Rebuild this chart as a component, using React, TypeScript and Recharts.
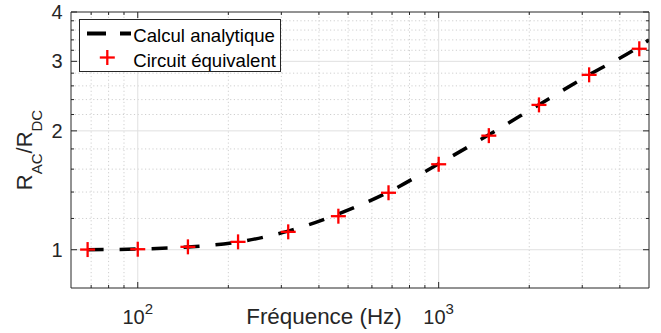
import React from 'react';
import { ComposedChart, Line, Scatter, XAxis, YAxis, ReferenceLine, Legend } from 'recharts';

// ---- data ----
const freqs = [68.13, 100, 146.78, 215.44, 316.23, 464.16, 681.29, 1000, 1467.8, 2154.4, 3162.3, 4641.6];
const circuitValues = [1.001, 1.003, 1.017, 1.047, 1.11, 1.216, 1.394, 1.646, 1.945, 2.327, 2.773, 3.228];
const analyticFreqs = [68.13, 100, 146.78, 215.44, 316.23, 464.16, 681.29, 1000, 1467.8, 2154.4, 3162.3, 4641.6, 5000];
const analyticValues = [1.0, 1.004, 1.016, 1.046, 1.115, 1.232, 1.4, 1.65, 1.955, 2.33, 2.775, 3.27, 3.4];

const xDomain = [60, 5000];
const yDomain = [0.8, 4];
const xMajorTicks = [100, 1000];
const xTickExponents = ['2', '3'];
const xMinorTicks = [70, 80, 90, 200, 300, 400, 500, 600, 700, 800, 900, 2000, 3000, 4000];
const yMajorTicks = [1, 2, 3, 4];
const yMinorTicks = [1.2, 1.4, 1.6, 1.8, 2.2, 2.4, 2.6, 2.8, 3.2, 3.4, 3.6, 3.8];
const seriesNames = ['Calcul analytique', 'Circuit équivalent'];
const xLabel = 'Fréquence (Hz)';

const circuitData = freqs.map((f, i) => ({ f, v: circuitValues[i] }));
const analyticData = analyticFreqs.map((f, i) => ({ f, v: analyticValues[i] }));

// ---- layout ----
const W = 661;
const H = 333;
const MARGIN = { top: 12, right: 12, bottom: 0, left: 0 };
const Y_AXIS_W = 71;
const X_AXIS_H = 45;
const PLOT_W = W - MARGIN.left - MARGIN.right - Y_AXIS_W;
const PLOT_H = H - MARGIN.top - MARGIN.bottom - X_AXIS_H;
const FONT = '"Liberation Sans", Arial, Helvetica, sans-serif';
const AX = '#262626';

const tickDash = (len: number, total: number) => `${len} ${total - 2 * len} ${len}`;

const YTick = (props: any) => {
  const { x, y, payload } = props;
  return (
    <text x={x - 8.5} y={y} dy="0.355em" textAnchor="end" fontSize={20} fill={AX} fontFamily={FONT}>
      {payload.value}
    </text>
  );
};

const XTick = (props: any) => {
  const { x, y, payload } = props;
  const idx = xMajorTicks.indexOf(payload.value);
  return (
    <text x={x} y={y + 35.5} textAnchor="middle" fontSize={20} fill={AX} fontFamily={FONT}>
      <tspan>10</tspan>
      <tspan dy={-9.3} fontSize={15}>{xTickExponents[idx]}</tspan>
    </text>
  );
};

const YLabel = () => {
  const cx = 31.5;
  const cy = MARGIN.top + PLOT_H / 2;
  return (
    <text
      x={cx}
      y={cy}
      transform={`rotate(-90 ${cx} ${cy})`}
      textAnchor="middle"
      fontSize={22}
      fill={AX}
      fontFamily={FONT}
    >
      <tspan>R</tspan>
      <tspan dy={10} fontSize={15}>AC</tspan>
      <tspan dy={-10}>/R</tspan>
      <tspan dy={10} fontSize={15}>DC</tspan>
    </text>
  );
};

const XLabel = () => (
  <text x={324} y={323.5} textAnchor="middle" fontSize={22.4} fill={AX} fontFamily={FONT}>
    {xLabel}
  </text>
);

const CrossShape = (props: any) => {
  const { cx, cy } = props;
  const s = 7.5;
  return (
    <g>
      <line x1={cx - s} x2={cx + s} y1={cy} y2={cy} stroke="#ff0000" strokeWidth={2.3} />
      <line x1={cx} x2={cx} y1={cy - s} y2={cy + s} stroke="#ff0000" strokeWidth={2.3} />
    </g>
  );
};

const LegendBox = () => (
  <svg width={202} height={53} style={{ display: 'block' }}>
    <rect x={0.5} y={0.5} width={201} height={52} fill="#ffffff" stroke={AX} strokeWidth={1} />
    <line x1={8} x2={52} y1={14.5} y2={14.5} stroke="#000" strokeWidth={4} strokeDasharray="19 14" />
    <line x1={20.8} x2={35.8} y1={38.5} y2={38.5} stroke="#ff0000" strokeWidth={2.3} />
    <line x1={28.3} x2={28.3} y1={31} y2={46} stroke="#ff0000" strokeWidth={2.3} />
    <text x={54.3} y={22.6} fontSize={18.6} fill="#000" fontFamily={FONT}>{seriesNames[0]}</text>
    <text x={54.3} y={47.6} fontSize={18.6} fill="#000" fontFamily={FONT}>{seriesNames[1]}</text>
  </svg>
);

export default function App() {
  return (
    <div style={{ position: 'absolute', left: 0, top: 0, width: W, height: H, background: '#fff' }}>
      <ComposedChart width={W} height={H} margin={MARGIN}>
        <XAxis
          dataKey="f"
          type="number"
          scale="log"
          domain={xDomain}
          allowDataOverflow
          ticks={xMajorTicks}
          tick={<XTick />}
          tickLine={false}
          tickSize={0}
          tickMargin={0}
          height={X_AXIS_H}
          axisLine={{ stroke: AX, strokeWidth: 1 }}
          label={<XLabel />}
        />
        <YAxis
          dataKey="v"
          type="number"
          scale="log"
          domain={yDomain}
          allowDataOverflow
          ticks={yMajorTicks}
          tick={<YTick />}
          tickLine={false}
          tickSize={0}
          tickMargin={0}
          width={Y_AXIS_W}
          axisLine={{ stroke: AX, strokeWidth: 1 }}
          label={<YLabel />}
        />

        {/* minor grid */}
        {xMinorTicks.map((v) => (
          <ReferenceLine key={`xg${v}`} x={v} stroke="#cfcfcf" strokeWidth={1} strokeDasharray="1.2 2.5" />
        ))}
        {yMinorTicks.map((v) => (
          <ReferenceLine key={`yg${v}`} y={v} stroke="#cfcfcf" strokeWidth={1} strokeDasharray="1.2 2.5" />
        ))}
        {/* major grid */}
        {xMajorTicks.map((v) => (
          <ReferenceLine key={`xG${v}`} x={v} stroke="#e0e0e0" strokeWidth={1} />
        ))}
        {yMajorTicks.slice(0, 3).map((v) => (
          <ReferenceLine key={`yG${v}`} y={v} stroke="#e0e0e0" strokeWidth={1} />
        ))}

        <Line
          data={analyticData}
          dataKey="v"
          type="monotone"
          stroke="#000"
          strokeWidth={3.5}
          strokeDasharray="16 16"
          dot={false}
          activeDot={false}
          isAnimationActive={false}
          name={seriesNames[0]}
        />
        <Scatter
          data={circuitData}
          dataKey="v"
          shape={<CrossShape />}
          isAnimationActive={false}
          name={seriesNames[1]}
        />

        {/* box border */}
        <ReferenceLine y={yDomain[1]} stroke={AX} strokeWidth={1} />
        <ReferenceLine x={xDomain[1]} stroke={AX} strokeWidth={1} />

        {/* inward tick marks (both sides) */}
        {xMajorTicks.map((v) => (
          <ReferenceLine key={`xt${v}`} x={v} stroke={AX} strokeWidth={1} strokeDasharray={tickDash(6, PLOT_H)} />
        ))}
        {xMinorTicks.map((v) => (
          <ReferenceLine key={`xm${v}`} x={v} stroke={AX} strokeWidth={1} strokeDasharray={tickDash(3, PLOT_H)} />
        ))}
        {yMajorTicks.map((v) => (
          <ReferenceLine key={`yt${v}`} y={v} stroke={AX} strokeWidth={1} strokeDasharray={tickDash(6, PLOT_W)} />
        ))}
        {yMinorTicks.map((v) => (
          <ReferenceLine key={`ym${v}`} y={v} stroke={AX} strokeWidth={1} strokeDasharray={tickDash(3, PLOT_W)} />
        ))}

        <Legend
          layout="vertical"
          align="center"
          verticalAlign="middle"
          content={() => <LegendBox />}
          wrapperStyle={{ position: 'absolute', left: 79, top: 19, width: 'auto', height: 'auto', margin: 0, padding: 0 }}
        />
      </ComposedChart>
    </div>
  );
}
